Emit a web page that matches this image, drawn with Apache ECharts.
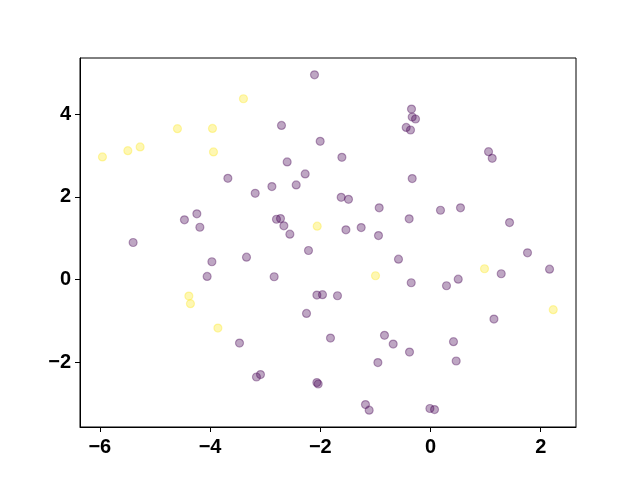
<!DOCTYPE html>
<html>
<head>
<meta charset="utf-8">
<script src="https://cdn.jsdelivr.net/npm/echarts@6/dist/echarts.min.js"></script>
<style>html,body{margin:0;padding:0;background:#fff}#chart{width:640px;height:480px}</style>
</head>
<body>
<div id="chart"></div>
<script>
// Class 0 points (purple)
const purpleX = [-2.105,-2.704,-2.002,-2.601,-2.274,-2.437,-3.677,-2.878,-3.181,-4.240,-4.465,-4.185,-2.795,-2.722,-2.661,-2.552,-5.396,-0.345,-0.332,-0.272,-0.441,-0.363,-1.608,1.053,1.120,-0.332,-1.621,-1.488,-0.931,0.181,0.544,-0.387,-1.535,-1.258,-0.944,1.434,-3.967,-3.339,-2.214,-4.053,-2.837,-2.062,-1.960,-1.688,-2.250,-3.466,-1.815,-3.158,-3.085,-2.062,-2.038,-0.581,-0.350,0.290,0.503,1.283,1.760,2.160,1.151,-0.835,-0.677,-0.381,-0.955,0.417,0.466,-1.180,-1.113,-0.011,0.073];
const purpleY = [4.947,3.725,3.340,2.843,2.554,2.289,2.448,2.248,2.087,1.590,1.446,1.267,1.460,1.477,1.301,1.099,0.899,4.120,3.928,3.880,3.677,3.614,2.954,3.092,2.930,2.441,1.990,1.942,1.735,1.677,1.735,1.470,1.205,1.260,1.067,1.381,0.434,0.545,0.706,0.080,0.072,-0.371,-0.361,-0.386,-0.812,-1.528,-1.407,-2.347,-2.289,-2.482,-2.516,0.496,-0.072,-0.145,0.014,0.145,0.651,0.255,-0.949,-1.342,-1.552,-1.745,-2.000,-1.494,-1.961,-3.012,-3.149,-3.108,-3.133];
// Class 1 points (yellow)
const yellowX = [-3.394,-4.592,-3.956,-5.953,-5.492,-5.269,-3.938,-2.056,-4.385,-4.356,-3.858,-0.998,0.980,2.227];
const yellowY = [4.369,3.646,3.653,2.964,3.116,3.205,3.084,1.292,-0.395,-0.578,-1.166,0.096,0.265,-0.723];
// Tick values
const xTicks = [-6,-4,-2,0,2];
const yTicks = [-2,0,2,4];

const zip = (xs, ys) => xs.map((x, i) => [x, ys[i]]);
const fmt = v => String(v).replace('-', '\u2212');
const labelStyle = {fontFamily:'"Liberation Sans", Arial, sans-serif', fontWeight:'bold', fontSize:20, color:'#000'};

const chart = echarts.init(document.getElementById('chart'), null, {renderer:'canvas'});
chart.setOption({
  animation:false,
  backgroundColor:'#fff',
  grid:{left:80, right:64, top:58, bottom:53, show:true, borderColor:'#000', borderWidth:1, containLabel:false},
  xAxis:{type:'value', min:-6.36, max:2.64, splitLine:{show:false},
    axisLine:{show:true, onZero:false, lineStyle:{color:'#000', width:1}},
    axisTick:{show:true, inside:false, length:5, customValues:xTicks, lineStyle:{color:'#000'}},
    axisLabel:Object.assign({customValues:xTicks, margin:10, formatter:fmt}, labelStyle)},
  yAxis:{type:'value', min:-3.554, max:5.352, splitLine:{show:false},
    axisLine:{show:true, onZero:false, lineStyle:{color:'#000', width:1}},
    axisTick:{show:true, inside:false, length:5, customValues:yTicks, lineStyle:{color:'#000'}},
    axisLabel:Object.assign({customValues:yTicks, margin:9, formatter:fmt}, labelStyle)},
  series:[
    {type:'scatter', data:zip(purpleX, purpleY), symbolSize:8,
      itemStyle:{color:'#440154', borderColor:'#440154', borderWidth:1.2, opacity:0.35}},
    {type:'scatter', data:zip(yellowX, yellowY), symbolSize:8,
      itemStyle:{color:'#fde725', borderColor:'#fde725', borderWidth:1.2, opacity:0.35}}
  ]
});
</script>
</body>
</html>
